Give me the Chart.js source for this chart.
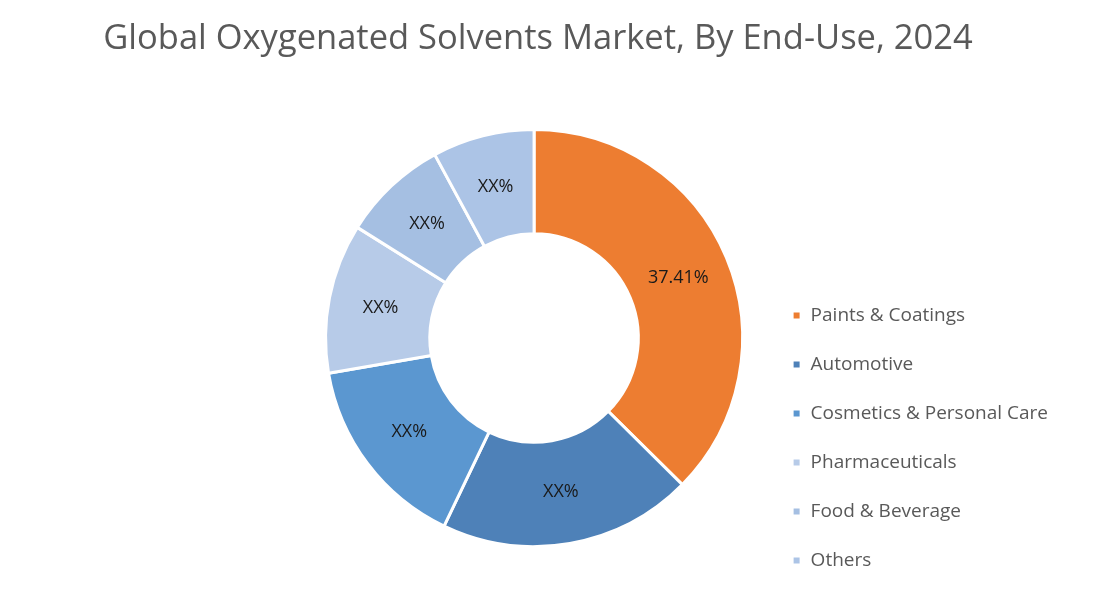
<!DOCTYPE html>
<html>
<head>
<meta charset="utf-8">
<script src="https://cdn.jsdelivr.net/npm/chart.js@4"></script>
<style>
  html, body { margin: 0; padding: 0; background: #fff; }
  #wrap { width: 1108px; height: 600px; position: relative; }
  #title { position: absolute; left: 0; width: 1076px; top: 12px; margin: 0; text-align: center;
           font: normal 34.5px 'Open Sans', sans-serif; color: #595959; }
</style>
</head>
<body>
<div id="wrap">
  <h1 id="title">Global Oxygenated Solvents Market, By End-Use, 2024</h1>
  <canvas id="chart" width="1108" height="600"></canvas>
</div>
<script>
const categories = ['Paints & Coatings', 'Automotive', 'Cosmetics & Personal Care', 'Pharmaceuticals', 'Food & Beverage', 'Others'];
const shares = [37.41, 19.7, 15.2, 11.6, 8.2, 7.9];
const sliceLabels = ['37.41%', 'XX%', 'XX%', 'XX%', 'XX%', 'XX%'];
const colors = ['#ED7D31', '#4E81B8', '#5B97D0', '#B7CBE8', '#A5BFE2', '#ACC4E6'];

// draws the text label in the middle of each ring slice
const sliceText = {
    id: 'sliceText',
    afterDatasetsDraw(chart) {
        const ctx = chart.ctx;
        const meta = chart.getDatasetMeta(0);
        ctx.save();
        ctx.font = "18px 'Open Sans', sans-serif";
        ctx.fillStyle = '#1a1a1a';
        ctx.textAlign = 'center';
        ctx.textBaseline = 'middle';
        meta.data.forEach((arc, i) => {
            const p = arc.tooltipPosition();
            ctx.fillText(sliceLabels[i], p.x, p.y);
        });
        ctx.restore();
    }
};

// push the legend down to sit low beside the ring
const legendShift = {
    id: 'legendShift',
    afterLayout(chart) {
        const lg = chart.legend;
        lg.top += 52;
        lg.bottom += 52;
        lg.adjustHitBoxes();
    }
};

Chart.defaults.font.family = "'Open Sans', sans-serif";

new Chart(document.getElementById('chart'), {
    type: 'doughnut',
    data: {
        labels: categories,
        datasets: [{
            data: shares,
            backgroundColor: colors,
            borderColor: '#ffffff',
            borderWidth: 3
        }]
    },
    options: {
        responsive: false,
        animation: false,
        cutout: '50%',
        layout: { padding: { left: 306, top: 128, bottom: 52, right: 50 } },
        plugins: {
            legend: {
                position: 'right',
                align: 'end',
                labels: {
                    boxWidth: 9,
                    boxHeight: 9,
                    padding: 30,
                    color: '#595959',
                    font: { size: 19 }
                }
            },
            tooltip: { enabled: false }
        }
    },
    plugins: [sliceText, legendShift]
});
</script>
</body>
</html>
